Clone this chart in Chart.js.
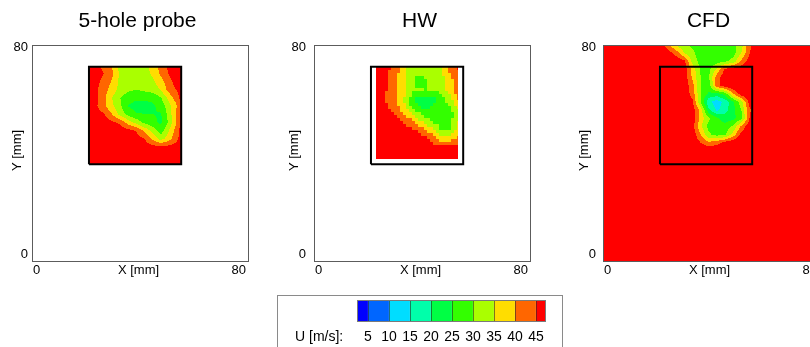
<!DOCTYPE html>
<html>
<head>
<meta charset="utf-8">
<script src="https://cdn.jsdelivr.net/npm/chart.js@4.4.1/dist/chart.umd.min.js"></script>
<style>
  html, body { margin: 0; padding: 0; background: #fff; }
  body { position: relative; width: 810px; height: 347px; overflow: hidden; }
  .panel { position: absolute; top: 0; width: 270px; height: 290px; }
  .panel canvas, #legendBox canvas { display: block; }
  #legendBox { position: absolute; left: 277px; top: 295px; width: 284px; height: 60px; border: 1px solid #8a8a8a; }
</style>
</head>
<body>
<div class="panel" style="left:0px"><canvas id="probeChart" width="270" height="290"></canvas></div>
<div class="panel" style="left:282px"><canvas id="hwChart" width="270" height="290"></canvas></div>
<div class="panel" style="left:571px"><canvas id="cfdChart" width="270" height="290"></canvas></div>
<div id="legendBox"><canvas id="legendChart" width="284" height="60"></canvas></div>
<script>
// ---- labels and axes ----
const panelTitles = ['5-hole probe', 'HW', 'CFD'];
const axisTicks = [0, 80];
const axisTitles = ['X [mm]', 'Y [mm]'];
const legendTitle = 'U [m/s]:';

// ---- velocity contour levels (m/s) ----
const uLevels = [5, 10, 15, 20, 25, 30, 35, 40, 45];
const uRange = [0, 50];

// ---- measurement window (mm) ----
const boxX = [21, 55];
const boxY = [36, 72];

// ---- 5-hole probe: U on measurement grid (rows top to bottom) ----
const probeX = [21, 23.5, 26.5, 29.5, 32.5, 35.5, 38.5, 41.5, 44.5, 47.5, 50.5, 53.5, 55];
const probeY = [72, 69.5, 66.5, 63.5, 60.5, 57.5, 54.5, 51.5, 48.5, 45.5, 42.5, 39.5, 36];
const probeU = [
  [49, 48, 43, 40, 33, 32, 32, 33, 37, 42, 46, 49, 49],
  [49, 48, 45, 41, 34, 32, 32, 33, 36, 41, 45.5, 49, 49],
  [49, 47, 43, 39.5, 33.5, 32, 32, 32.5, 34, 38, 43, 48, 49],
  [48.5, 46, 42, 38, 33, 31, 30, 31, 32, 35.5, 42, 45.5, 48],
  [48.5, 46.5, 41.5, 35, 30, 27, 26, 26, 26.5, 29.5, 37, 43, 47],
  [48.5, 46, 41, 36, 31, 24.8, 23, 23, 24, 27, 33, 40, 46],
  [48.5, 47.5, 45.5, 40, 33, 28, 25.5, 25, 25, 24.5, 32, 42, 46.5],
  [49, 48.5, 47.5, 46, 44, 37.5, 33, 28.5, 26.5, 24, 31, 41, 46.5],
  [49, 49, 48.5, 48, 47.5, 46.5, 44.5, 38.5, 33, 27.5, 35, 43, 47],
  [49, 49, 49, 48.5, 48, 47.5, 47, 45, 39, 32.5, 38, 44, 47.5],
  [49, 49, 49, 49, 48.5, 48.5, 48, 47.5, 46.5, 46, 46.5, 47.5, 48.5],
  [49, 49, 49, 49, 49, 49, 49, 49, 49, 49, 49, 49, 49],
  [49, 49, 49, 49, 49, 49, 49, 49, 49, 49, 49, 49, 49]
];

// ---- hot wire: U on measurement grid ----
const hwX = [23, 26, 29, 32, 35, 38, 41, 44, 47, 50, 53];
const hwY = [72, 69.5, 66.5, 63.5, 60.5, 57.5, 54.5, 51.5, 48.5, 45.5, 42.5, 39.5, 38];
const hwU = [
  [48, 48, 45.5, 40, 33, 32, 32, 32.5, 34, 42, 46],
  [48, 46.5, 42, 39, 33, 31.5, 31, 32, 34, 40, 43.5],
  [48, 46, 42, 39, 33, 27.5, 29, 32, 33, 38, 43],
  [48, 46, 42, 38, 33, 30.2, 30, 30.3, 32, 37, 42.5],
  [48, 45.5, 42, 38, 31, 24, 23, 24, 28, 34, 41],
  [48, 46, 43, 38.5, 31, 25, 23.5, 25, 27, 30, 37],
  [48.5, 47.5, 45.5, 42, 37, 32, 28, 27, 26.5, 27.5, 33],
  [49, 48.5, 48, 46, 43, 38.5, 33, 30, 27, 28, 36],
  [49, 49, 48.5, 48, 47, 45, 41, 36, 29, 30, 37],
  [49, 49, 49, 48.5, 48, 47.5, 46, 43, 37, 37, 41],
  [49, 49, 49, 49, 48.5, 48.5, 48, 47, 46, 46, 46.5],
  [49, 49, 49, 49, 49, 49, 49, 49, 49, 49, 49],
  [49, 49, 49, 49, 49, 49, 49, 49, 49, 49, 49]
];

// ---- CFD: U over the full section ----
const cfdX = [0, 18, 21, 24, 27, 30, 33, 36, 39, 42, 45, 48, 51, 54, 57, 80];
const cfdY = [80, 77, 74, 71, 68, 65, 62, 59, 56, 53, 50, 47, 44, 41, 0];
const cfdU = [
  [50, 50, 49, 42, 34, 31, 29, 28, 27.5, 27, 27.5, 28.5, 33, 44, 49, 50],
  [50, 50, 50, 47.5, 43, 35, 31, 27.5, 27, 27, 26.5, 28, 35, 44.5, 50, 50],
  [50, 50, 50, 49, 48.5, 46.5, 33, 28, 27, 27.5, 29, 32, 41, 47.5, 50, 50],
  [50, 50, 50, 50, 49, 48, 38, 29.5, 28.5, 36, 46.5, 48.5, 49, 50, 50, 50],
  [50, 50, 50, 50, 49.5, 48.5, 39, 30, 29.5, 43, 48.5, 49.5, 50, 50, 50, 50],
  [50, 50, 50, 50, 49.5, 48.5, 42, 30, 27, 43, 48, 49.5, 50, 50, 50, 50],
  [50, 50, 50, 50, 49.5, 48.5, 43, 30, 24, 23, 27, 40, 48, 50, 50, 50],
  [50, 50, 50, 50, 50, 49, 46, 30, 16, 12.5, 16.5, 24, 33, 47, 50, 50],
  [50, 50, 50, 50, 50, 49.5, 48, 38, 21, 14, 18, 23.5, 30, 44, 50, 50],
  [50, 50, 50, 50, 50, 50, 48.5, 38, 31, 26, 22.5, 23.5, 28, 45, 50, 50],
  [50, 50, 50, 50, 50, 50, 47, 36, 28, 26.5, 27, 31, 41, 49, 50, 50],
  [50, 50, 50, 50, 50, 50, 48.5, 40, 31, 28, 29, 37, 47, 50, 50, 50],
  [50, 50, 50, 50, 50, 50, 49.5, 45, 41, 43, 47, 49.5, 50, 50, 50, 50],
  [50, 50, 50, 50, 50, 50, 50, 50, 50, 50, 50, 50, 50, 50, 50, 50],
  [50, 50, 50, 50, 50, 50, 50, 50, 50, 50, 50, 50, 50, 50, 50, 50]
];

// ---- palette: one colour per band, below 5 up to above 45 ----
const bandColors = ['#0000ff', '#0066ff', '#00ddff', '#00ffaa', '#00ff44',
                    '#33ff00', '#aaff00', '#ffdd00', '#ff6600', '#ff0000'];

const FONT = '"Liberation Sans", Arial, Helvetica, sans-serif';

function bandColor(v) {
  let k = 0;
  while (k < uLevels.length && v >= uLevels[k]) k++;
  return bandColors[k];
}

// position of v inside a monotonic node list -> [cell index, fraction]
function locate(nodes, v) {
  const n = nodes.length;
  const asc = nodes[n - 1] > nodes[0];
  for (let i = 0; i < n - 1; i++) {
    const a = nodes[i], c = nodes[i + 1];
    if (asc ? v <= c : v >= c) {
      const t = (v - a) / (c - a);
      return [i, Math.min(1, Math.max(0, t))];
    }
  }
  return [n - 2, 1];
}

function sampleField(f, X, Y) {
  const [i, tx] = locate(f.x, X);
  const [j, ty] = locate(f.y, Y);
  const z = f.u;
  return (1 - tx) * (1 - ty) * z[j][i] + tx * (1 - ty) * z[j][i + 1] +
         (1 - tx) * ty * z[j + 1][i] + tx * ty * z[j + 1][i + 1];
}

// filled contour bands of a gridded U field, painted through the chart scales
const contourPlugin = {
  id: 'contourField',
  beforeDatasetsDraw(chart, args, opts) {
    const f = opts.field;
    if (!f) return;
    const xs = chart.scales.x, ys = chart.scales.y, ctx = chart.ctx, area = chart.chartArea;
    const left = Math.max(area.left, Math.round(xs.getPixelForValue(f.x[0])));
    const right = Math.min(area.right, Math.round(xs.getPixelForValue(f.x[f.x.length - 1])));
    const top = Math.max(area.top, Math.round(ys.getPixelForValue(f.y[0])));
    const bottom = Math.min(area.bottom, Math.round(ys.getPixelForValue(f.y[f.y.length - 1])));
    const b = opts.block || 1;
    ctx.save();
    ctx.beginPath();
    ctx.rect(left, top, right - left, bottom - top);
    ctx.clip();
    for (let py = top; py < bottom; py += b) {
      const Y = ys.getValueForPixel(py + b / 2);
      let runStart = left, runColor = null;
      for (let px = left; px < right; px += b) {
        const X = xs.getValueForPixel(px + b / 2);
        const c = bandColor(sampleField(f, X, Y));
        if (c !== runColor) {
          if (runColor) { ctx.fillStyle = runColor; ctx.fillRect(runStart, py, px - runStart, b); }
          runColor = c; runStart = px;
        }
      }
      if (runColor) { ctx.fillStyle = runColor; ctx.fillRect(runStart, py, right - runStart, b); }
    }
    ctx.restore();
  }
};

// frame, title, tick labels and axis titles of a panel
const panelTextPlugin = {
  id: 'panelText',
  afterDraw(chart, args, o) {
    if (!o.title) return;
    const { ctx } = chart;
    const x = chart.scales.x, y = chart.scales.y;
    const L = x.getPixelForValue(axisTicks[0]), R = x.getPixelForValue(axisTicks[1]);
    const B = y.getPixelForValue(axisTicks[0]), T = y.getPixelForValue(axisTicks[1]);
    ctx.save();
    ctx.strokeStyle = '#5c5c5c';
    ctx.lineWidth = 1;
    ctx.strokeRect(Math.round(L) + 0.5, Math.round(T) + 0.5, Math.round(R - L) - 1, Math.round(B - T) - 1);

    ctx.fillStyle = '#000';
    ctx.font = '21px ' + FONT;
    ctx.textAlign = 'center';
    ctx.textBaseline = 'alphabetic';
    ctx.fillText(o.title, (L + R) / 2 - 3, 27);

    ctx.font = '13px ' + FONT;
    const base = B + 11.5;
    ctx.textAlign = 'left';
    ctx.fillText(String(axisTicks[0]), L + 1, base);
    ctx.textAlign = 'right';
    ctx.fillText(String(axisTicks[1]), R - 3, base);
    ctx.textAlign = 'center';
    ctx.fillText(axisTitles[0], (L + R) / 2 - 2, base);

    ctx.textAlign = 'right';
    ctx.textBaseline = 'middle';
    ctx.fillText(String(axisTicks[1]), L - o.yTickGap, T + 2);
    ctx.fillText(String(axisTicks[0]), L - o.yTickGap, B - 8);

    ctx.translate(L - o.yTitleGap, (T + B) / 2 - 3);
    ctx.rotate(-Math.PI / 2);
    ctx.textAlign = 'center';
    ctx.fillText(axisTitles[1], 0, 0);
    ctx.restore();
  }
};

function makePanel(id, title, field, block, yTickGap, yTitleGap) {
  const outline = [
    { x: boxX[0], y: boxY[0] }, { x: boxX[1], y: boxY[0] },
    { x: boxX[1], y: boxY[1] }, { x: boxX[0], y: boxY[1] },
    { x: boxX[0], y: boxY[0] }
  ];
  return new Chart(document.getElementById(id), {
    type: 'scatter',
    data: {
      datasets: [{
        data: outline,
        showLine: true,
        borderColor: '#000',
        borderWidth: 2,
        borderJoinStyle: 'miter',
        pointRadius: 0,
        tension: 0,
        clip: false
      }]
    },
    options: {
      responsive: false,
      animation: false,
      devicePixelRatio: 1,
      events: [],
      layout: { padding: { left: 32, top: 45, right: 21, bottom: 28 } },
      scales: {
        x: { type: 'linear', min: axisTicks[0], max: axisTicks[1], display: false },
        y: { type: 'linear', min: axisTicks[0], max: axisTicks[1], display: false }
      },
      plugins: {
        legend: { display: false },
        tooltip: { enabled: false },
        contourField: { field: field, block: block },
        panelText: { title: title, yTickGap: yTickGap, yTitleGap: yTitleGap }
      }
    },
    plugins: [contourPlugin, panelTextPlugin]
  });
}

makePanel('probeChart', panelTitles[0], { x: probeX, y: probeY, u: probeU }, 1, 4, 15);
makePanel('hwChart', panelTitles[1], { x: hwX, y: hwY, u: hwU }, 3, 8, 20);
makePanel('cfdChart', panelTitles[2], { x: cfdX, y: cfdY, u: cfdU }, 1, 7, 19);

// ---- colour bar ----
const bandEdges = [uRange[0]].concat(uLevels, [uRange[1]]);
const colorbarPlugin = {
  id: 'colorbarText',
  afterDraw(chart) {
    const { ctx, chartArea: a } = chart;
    const x = chart.scales.x;
    ctx.save();
    ctx.strokeStyle = '#7a7a7a';
    ctx.lineWidth = 1;
    ctx.strokeRect(Math.round(a.left) + 0.5, Math.round(a.top) + 0.5,
                   Math.round(a.right - a.left) - 1, Math.round(a.bottom - a.top) - 1);
    ctx.fillStyle = '#000';
    ctx.font = '14px ' + FONT;
    ctx.textBaseline = 'alphabetic';
    ctx.textAlign = 'left';
    ctx.fillText(legendTitle, 17, 45);
    ctx.textAlign = 'center';
    uLevels.forEach(v => ctx.fillText(String(v), x.getPixelForValue(v), 45));
    ctx.restore();
  }
};

new Chart(document.getElementById('legendChart'), {
  type: 'bar',
  data: {
    labels: ['U'],
    datasets: bandColors.map((c, i) => ({
      data: [[bandEdges[i], bandEdges[i + 1]]],
      backgroundColor: c,
      borderColor: '#2a2a2a',
      borderWidth: { left: 1, right: 0, top: 0, bottom: 0 },
      borderSkipped: false,
      grouped: false,
      barPercentage: 1,
      categoryPercentage: 1
    }))
  },
  options: {
    indexAxis: 'y',
    responsive: false,
    animation: false,
    devicePixelRatio: 1,
    events: [],
    layout: { padding: { left: 79, right: 16, top: 4, bottom: 34 } },
    scales: {
      x: { type: 'linear', min: 2.4, max: 47.4, display: false },
      y: { type: 'category', display: false }
    },
    plugins: { legend: { display: false }, tooltip: { enabled: false } }
  },
  plugins: [colorbarPlugin]
});
</script>
</body>
</html>
